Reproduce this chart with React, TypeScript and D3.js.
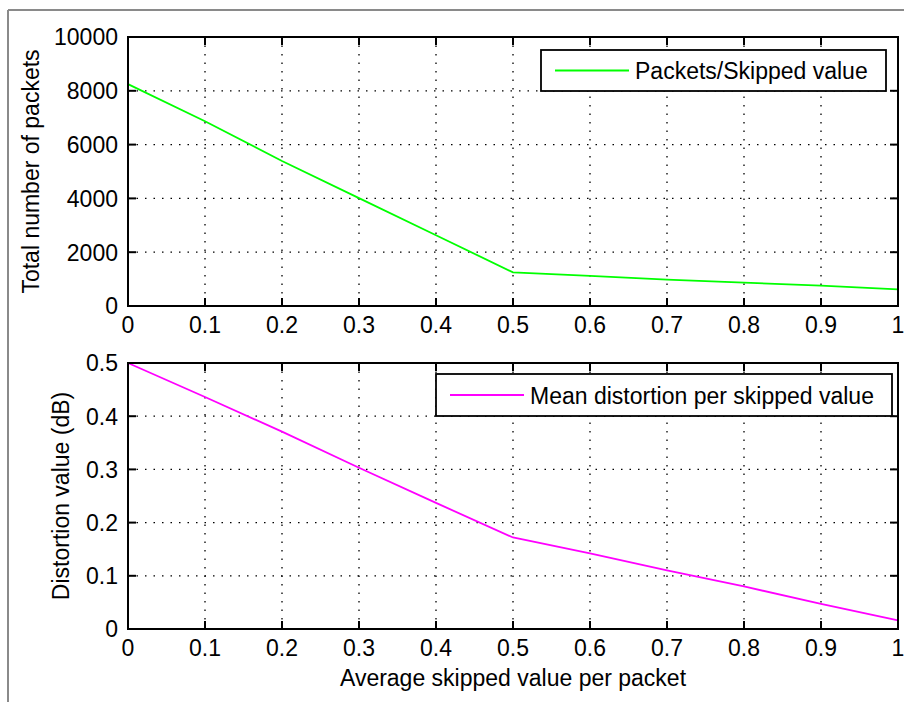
import React from "react";
import * as d3 from "d3";

// Skipped value per packet (shared x positions)
const skipValues = [0, 0.1, 0.2, 0.3, 0.4, 0.5, 0.6, 0.7, 0.8, 0.9, 1.0];
// Total number of packets for each skipped value
const packetCounts = [8250, 6870, 5390, 4010, 2630, 1250, 1120, 980, 870, 760, 620];
// Mean distortion (dB) for each skipped value
const meanDistortion = [0.5, 0.436, 0.371, 0.303, 0.237, 0.172, 0.142, 0.11, 0.08, 0.047, 0.016];

const xTicks = [0, 0.1, 0.2, 0.3, 0.4, 0.5, 0.6, 0.7, 0.8, 0.9, 1];
const packetTicks = [0, 2000, 4000, 6000, 8000, 10000];
const distortionTicks = [0, 0.1, 0.2, 0.3, 0.4, 0.5];

const topLegendLabel = "Packets/Skipped value";
const bottomLegendLabel = "Mean distortion per skipped value";
const topYLabel = "Total number of packets";
const bottomYLabel = "Distortion value (dB)";
const xLabel = "Average skipped value per packet";

const FONT = "'Liberation Sans', Arial, Helvetica, sans-serif";
const FS = 23;
const TICK = 8;

type PanelProps = {
  top: number;
  bottom: number;
  yDomain: [number, number];
  yTicks: number[];
  values: number[];
  color: string;
  yLabel: string;
  yLabelX: number;
  legend: { x0: number; x1: number; y0: number; y1: number; lx0: number; lx1: number; tx: number; label: string };
  xFormat: (v: number) => string;
  yFormat: (v: number) => string;
};

const LEFT = 128;
const RIGHT = 898;

function Panel(p: PanelProps) {
  const x = d3.scaleLinear().domain([0, 1]).range([LEFT, RIGHT]);
  const y = d3.scaleLinear().domain(p.yDomain).range([p.bottom, p.top]);
  const line = d3
    .line<number>()
    .x((_, i) => x(skipValues[i]))
    .y((d) => y(d));
  const grid = { stroke: "#000", strokeWidth: 1.3, strokeDasharray: "1.5 7" };
  const legMid = (p.legend.y0 + p.legend.y1) / 2;
  return (
    <g>
      {/* dotted grid */}
      {xTicks.slice(1, -1).map((t) => (
        <line key={"gx" + t} x1={x(t)} x2={x(t)} y1={p.top} y2={p.bottom} {...grid} />
      ))}
      {p.yTicks.slice(1, -1).map((t) => (
        <line key={"gy" + t} x1={LEFT} x2={RIGHT} y1={y(t)} y2={y(t)} {...grid} />
      ))}
      {/* inward ticks on all four sides */}
      {xTicks.map((t) => (
        <g key={"tx" + t}>
          <line x1={x(t)} x2={x(t)} y1={p.bottom} y2={p.bottom - TICK} stroke="#000" strokeWidth={2} />
          <line x1={x(t)} x2={x(t)} y1={p.top} y2={p.top + TICK} stroke="#000" strokeWidth={2} />
          <text x={x(t)} y={p.bottom + 27} textAnchor="middle" fontFamily={FONT} fontSize={FS}>
            {p.xFormat(t)}
          </text>
        </g>
      ))}
      {p.yTicks.map((t) => (
        <g key={"ty" + t}>
          <line x1={LEFT} x2={LEFT + TICK} y1={y(t)} y2={y(t)} stroke="#000" strokeWidth={2} />
          <line x1={RIGHT} x2={RIGHT - TICK} y1={y(t)} y2={y(t)} stroke="#000" strokeWidth={2} />
          <text x={LEFT - 10} y={y(t) + 8.3} textAnchor="end" fontFamily={FONT} fontSize={FS}>
            {p.yFormat(t)}
          </text>
        </g>
      ))}
      {/* data */}
      <path d={line(p.values) || ""} fill="none" stroke={p.color} strokeWidth={1.8} />
      {/* axes box */}
      <rect x={LEFT} y={p.top} width={RIGHT - LEFT} height={p.bottom - p.top} fill="none" stroke="#000" strokeWidth={2} />
      {/* y label */}
      <text
        transform={`translate(${p.yLabelX},${(p.top + p.bottom) / 2}) rotate(-90)`}
        textAnchor="middle"
        fontFamily={FONT}
        fontSize={FS}
      >
        {p.yLabel}
      </text>
      {/* legend */}
      <rect
        x={p.legend.x0}
        y={p.legend.y0}
        width={p.legend.x1 - p.legend.x0}
        height={p.legend.y1 - p.legend.y0}
        fill="#fff"
        stroke="#000"
        strokeWidth={1.8}
      />
      <line x1={p.legend.lx0} x2={p.legend.lx1} y1={legMid} y2={legMid} stroke={p.color} strokeWidth={1.8} />
      <text x={p.legend.tx} y={legMid + 8.5} fontFamily={FONT} fontSize={FS}>
        {p.legend.label}
      </text>
    </g>
  );
}

const fmt = (v: number) => String(+v.toFixed(2));

export default function App() {
  return (
    <svg
      width={904}
      height={702}
      style={{ position: "absolute", left: 0, top: 0, background: "#fff" }}
    >
      <rect x={0} y={0} width={904} height={702} fill="#fff" />
      {/* window frame edge */}
      <line x1={8} x2={904} y1={10} y2={10} stroke="#8a8a8a" strokeWidth={2} />
      <line x1={8} x2={8} y1={10} y2={702} stroke="#8a8a8a" strokeWidth={2} />
      <Panel
        top={37}
        bottom={306}
        yDomain={[0, 10000]}
        yTicks={packetTicks}
        values={packetCounts}
        color="#00ff00"
        yLabel={topYLabel}
        yLabelX={39}
        legend={{ x0: 541, x1: 886, y0: 50, y1: 91, lx0: 555, lx1: 629, tx: 635, label: topLegendLabel }}
        xFormat={fmt}
        yFormat={(v) => String(v)}
      />
      <Panel
        top={363}
        bottom={629}
        yDomain={[0, 0.5]}
        yTicks={distortionTicks}
        values={meanDistortion}
        color="#ff00ff"
        yLabel={bottomYLabel}
        yLabelX={69}
        legend={{ x0: 436, x1: 892, y0: 374, y1: 416, lx0: 450, lx1: 524, tx: 530, label: bottomLegendLabel }}
        xFormat={fmt}
        yFormat={fmt}
      />
      <text x={(LEFT + RIGHT) / 2} y={686} textAnchor="middle" fontFamily={FONT} fontSize={FS}>
        {xLabel}
      </text>
    </svg>
  );
}
